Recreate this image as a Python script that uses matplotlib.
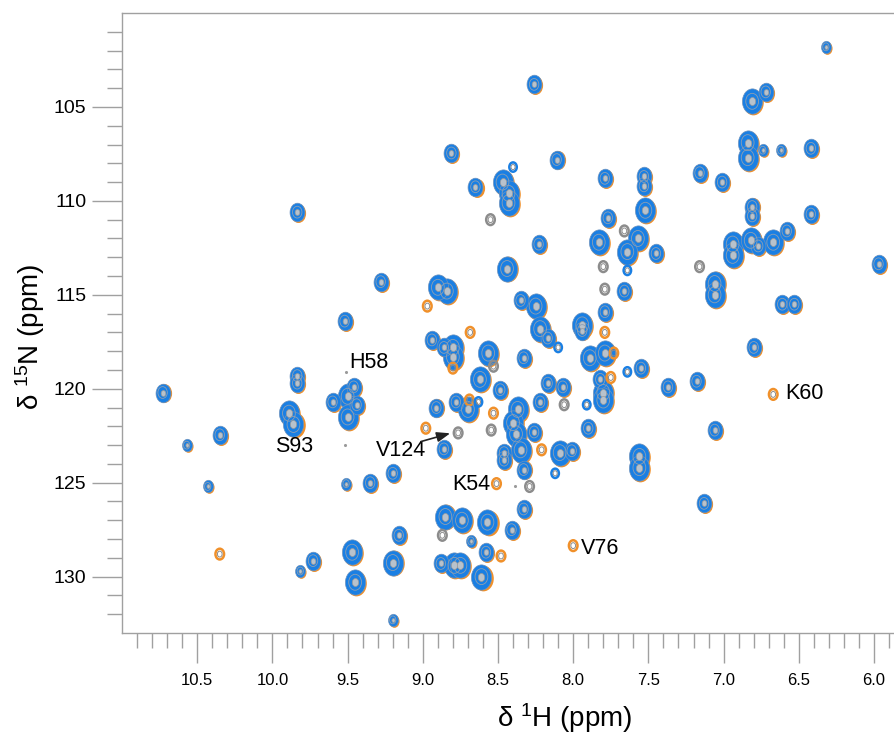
import numpy as np
import matplotlib
matplotlib.use("Agg")
import matplotlib.pyplot as plt
from matplotlib import font_manager as fm
from matplotlib.path import Path
from matplotlib.transforms import Affine2D, offset_copy

# peak positions, (1H ppm, 15N ppm)
large_peaks = [
    (6.81, 104.7), (6.84, 106.9), (6.84, 107.7), (7.52, 110.5), (6.94, 112.3), (6.94, 112.9),
    (6.82, 112.1), (6.67, 112.2), (7.06, 114.4), (7.06, 115.0), (7.57, 112.0), (7.64, 112.7),
    (7.83, 112.2), (7.56, 123.6), (7.56, 124.2), (8.44, 113.6), (8.84, 114.8), (8.90, 114.6),
    (8.25, 115.6), (8.22, 116.8), (7.94, 116.6), (8.80, 117.8), (8.80, 118.3), (8.565, 118.1),
    (8.62, 119.5), (7.89, 118.35), (7.79, 118.1), (7.80, 120.2), (7.80, 120.6), (8.70, 121.1),
    (8.37, 121.1), (8.40, 121.8), (8.38, 122.4), (9.89, 121.3), (9.86, 121.9), (9.50, 120.4),
    (9.50, 121.5), (8.35, 123.25), (8.09, 123.4), (8.85, 126.8), (8.74, 127.0), (8.57, 127.1),
    (8.79, 129.4), (8.75, 129.4), (8.61, 130.0), (9.47, 128.7), (9.45, 130.3), (9.20, 129.25),
    (8.47, 109.0), (8.43, 109.6), (8.43, 110.1),
]
medium_peaks = [
    (6.72, 104.2), (6.42, 107.2), (7.16, 108.5), (7.01, 109.0), (6.81, 110.3), (6.81, 110.8),
    (6.42, 110.7), (7.45, 112.8), (6.77, 112.4), (6.58, 111.6), (6.61, 115.5), (6.53, 115.5),
    (5.97, 113.35), (7.53, 108.7), (7.53, 109.2), (7.79, 108.8), (7.77, 110.9), (7.66, 114.8),
    (7.79, 115.9), (6.80, 117.8), (7.55, 118.9), (7.37, 119.9), (7.18, 119.6), (7.06, 122.2),
    (7.13, 126.1), (8.23, 112.3), (8.35, 115.3), (8.17, 117.3), (8.94, 117.4), (8.86, 117.8),
    (8.33, 118.35), (7.82, 119.5), (8.485, 120.05), (8.17, 119.7), (8.07, 119.9), (8.22, 120.7),
    (8.91, 121.0), (8.78, 120.7), (8.26, 122.3), (7.90, 122.1), (8.86, 123.2), (8.01, 123.3),
    (8.46, 123.4), (8.46, 123.8), (8.33, 124.3), (8.33, 126.4), (8.41, 127.5), (8.58, 128.7),
    (8.88, 129.3), (9.28, 114.3), (9.52, 116.4), (9.835, 119.3), (9.835, 119.7), (10.73, 120.2),
    (9.60, 120.7), (9.46, 119.9), (9.44, 120.85), (10.35, 122.45), (9.35, 125.0), (9.20, 124.5),
    (9.73, 129.15), (9.16, 127.8), (8.26, 103.8), (8.81, 107.45), (8.11, 107.8), (8.65, 109.25),
    (9.835, 110.6), (7.94, 116.9),
]
small_peaks = [
    (6.32, 101.8), (10.57, 123.0), (10.43, 125.2), (9.51, 125.05), (9.815, 129.7),
    (9.20, 132.3), (8.68, 128.1), (6.74, 107.3), (6.62, 107.3),
]
orange_only = [
    (8.97, 115.6), (8.685, 117.0), (7.79, 117.0), (8.98, 122.1), (8.51, 125.05), (8.21, 123.25),
    (8.48, 128.9), (6.67, 120.3), (10.35, 128.8), (8.69, 120.6), (7.73, 118.1), (8.53, 121.3),
    (8.80, 118.9), (7.75, 119.4), (8.0, 128.35),
]
gray_only = [
    (7.16, 113.5), (7.66, 111.6), (7.80, 113.5), (7.79, 114.7), (8.55, 111.0), (8.765, 122.35),
    (8.29, 125.2), (8.53, 118.8), (8.06, 120.85), (8.545, 122.2), (8.87, 127.8),
]
blue_rings = [
    (8.40, 108.2), (7.64, 119.1), (7.64, 113.7), (8.10, 117.8), (7.91, 120.85), (8.63, 120.7),
    (8.12, 124.5),
]
noise_dots = [(9.51, 119.1), (9.52, 123.0), (8.39, 125.2)]

labels = ["H58", "S93", "V124", "K54", "V76", "K60"]
label_pos = [(9.49, 118.6), (9.98, 123.1), (9.31, 123.3), (8.805, 125.1), (7.947, 128.5), (6.59, 120.27)]

x_major = np.arange(6.0, 10.51, 0.5)
x_minor = np.arange(5.9, 10.91, 0.1)
y_major = np.arange(105, 131, 5)
y_minor = np.arange(101, 133, 1)

BLUE = "#1a7fe3"
ORANGE = "#f0902a"
GRAY = "#8c8c8c"
AXCOL = "#a0a0a0"

names = {f.name for f in fm.fontManager.ttflist}
narrow = "Liberation Sans Narrow" in names
plt.rcParams["font.family"] = ["Liberation Sans", "DejaVu Sans"]
plt.rcParams["mathtext.fontset"] = "custom"
plt.rcParams["mathtext.rm"] = "Liberation Sans"

fig = plt.figure(figsize=(8.94, 7.40), dpi=100)
ax = fig.add_axes([122 / 894, 107 / 740, 1 - 122 / 894, (633 - 13) / 740])

ell = Path.unit_circle().transformed(Affine2D().scale(0.8, 1.0))
shift = offset_copy(ax.transData, fig=fig, x=1.1, y=-0.9, units="dots")


def xy(pts):
    a = np.array(pts)
    return a[:, 0], a[:, 1]


def draw_peaks(pts, s):
    h, n = xy(pts)
    ax.scatter(h, n, s=s * 1.04, marker=ell, color=ORANGE, lw=0, transform=shift, zorder=2)
    ax.scatter(h, n, s=s, marker=ell, facecolor=BLUE, edgecolor="#6f93bd", lw=0.5, zorder=3)
    ax.scatter(h, n, s=s * 0.4, marker=ell, facecolor="none", edgecolor="#8d9fb3", lw=0.6, zorder=4)
    ax.scatter(h, n, s=s * 0.1, marker=ell, facecolor="#b8c2cc", edgecolor="#9a9a9a", lw=0.5, zorder=4)


def draw_rings(pts, col, s=60):
    h, n = xy(pts)
    ax.scatter(h, n, s=s, marker=ell, facecolor="none", edgecolor=col, lw=1.8, zorder=3)
    ax.scatter(h, n, s=s * 0.3, marker=ell, facecolor="none", edgecolor=GRAY, lw=0.7, zorder=4)


draw_peaks(large_peaks, 330)
draw_peaks(medium_peaks, 180)
draw_peaks(small_peaks, 80)
draw_rings(orange_only, ORANGE)
draw_rings(gray_only, GRAY)
draw_rings(blue_rings, BLUE, 45)
h, n = xy(noise_dots)
ax.scatter(h, n, s=5, color="#9a9a9a", lw=0, zorder=3)

for lab, (lx, ly) in zip(labels, label_pos):
    ax.text(lx, ly, lab, fontsize=15.5, ha="left", va="center", color="black", zorder=6)
ax.annotate("", xy=(8.80, 122.33), xytext=(9.03, 122.85),
            arrowprops=dict(arrowstyle="-|>,head_length=0.8,head_width=0.3", color="#222222", lw=1.2),
            zorder=6)

ax.set_xlim(11.0, 5.867)
ax.set_ylim(133.0, 100.0)
ax.set_xticks(x_major)
ax.set_xticks(x_minor, minor=True)
ax.set_yticks(y_major)
ax.set_yticks(y_minor, minor=True)
ax.set_xticklabels([f"{v:.1f}" for v in x_major])
ax.set_yticklabels([f"{v:d}" for v in y_major])

ax.tick_params(axis="both", which="major", direction="out", length=21.6, width=1.0, color=AXCOL)
ax.tick_params(axis="both", which="minor", direction="out", length=10.8, width=1.0, color=AXCOL)
ax.tick_params(axis="x", which="major", pad=7)
ax.tick_params(axis="y", which="major", pad=4, labelsize=14)
for t in ax.get_xticklabels():
    if narrow:
        t.set_family("Liberation Sans Narrow")
        t.set_fontsize(13.5)
    else:
        t.set_fontsize(12)

for side in ("left", "top", "bottom"):
    ax.spines[side].set_color(AXCOL)
    ax.spines[side].set_linewidth(1.0)
ax.spines["right"].set_visible(False)

fig.text(565 / 894, 1 - 718 / 740, r"δ $\mathregular{^{1}}$H (ppm)", fontsize=20,
         ha="center", va="center")
fig.text(30 / 894, 1 - 337 / 740, r"δ $\mathregular{^{15}}$N (ppm)", fontsize=20,
         ha="center", va="center", rotation=90)

fig.savefig("out.png", dpi=100)
